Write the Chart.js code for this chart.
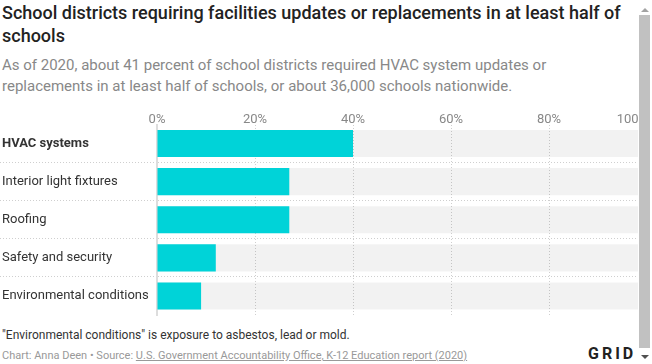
<!DOCTYPE html>
<html>
<head>
<meta charset="utf-8">
<script src="https://cdn.jsdelivr.net/npm/chart.js@4"></script>
<style>
  html, body { margin: 0; padding: 0; background: #fff; overflow: hidden; }
  body { width: 652px; height: 364px; position: relative; font-family: Roboto, "Noto Sans", sans-serif; }
  #title { position: absolute; left: 2px; top: 1px; width: 630px; font-size: 18px; font-weight: 500; line-height: 23px; color: #222; }
  #subtitle { position: absolute; left: 2px; top: 55px; width: 620px; font-size: 15px; line-height: 21px; color: #888; }
  #wrap { position: absolute; left: 0; top: 100px; width: 638px; height: 220px; overflow: hidden; }
  #wrap canvas { position: absolute; left: 0; top: 0; }
  #note { position: absolute; left: 2px; top: 327px; font-size: 12px; line-height: 16px; color: #333; }
  #source { position: absolute; left: 2px; top: 348px; font-size: 11px; line-height: 15px; color: #999; }
  #source a { color: #999; text-decoration: underline; }
  #logo { position: absolute; left: 588px; top: 344px; font-size: 16px; font-weight: 700; letter-spacing: 3px; color: #222; font-family: Roboto, sans-serif; }
  #sb { position: absolute; left: 638px; top: 0; width: 14px; height: 364px; background: #fff; }
  #thumb { position: absolute; left: 1px; top: 15px; width: 11px; height: 333px; background: #c1c1c1; }
  .arr { position: absolute; left: 3px; width: 0; height: 0; border-left: 4px solid transparent; border-right: 4px solid transparent; }
  #up { top: 8px; border-bottom: 4px solid #a3a3a3; }
  #down { top: 355px; border-top: 4px solid #505050; }
</style>
</head>
<body>
<div id="title">School districts requiring facilities updates or replacements in at least half of schools</div>
<div id="subtitle">As of 2020, about 41 percent of school districts required HVAC system updates or replacements in at least half of schools, or about 36,000 schools nationwide.</div>
<div id="wrap"><canvas id="c" width="700" height="220"></canvas></div>
<div id="note">"Environmental conditions" is exposure to asbestos, lead or mold.</div>
<div id="source">Chart: Anna Deen • Source: <a>U.S. Government Accountability Office, K-12 Education report (2020)</a></div>
<div id="logo">GRID</div>
<div id="sb"><div class="arr" id="up"></div><div id="thumb"></div><div class="arr" id="down"></div></div>
<script>
const categories = ["HVAC systems", "Interior light fixtures", "Roofing", "Safety and security", "Environmental conditions"];
const shareValues = [40, 27, 27, 12, 9];
const trackValues = [100, 100, 100, 100, 100];
const tickValues = [0, 20, 40, 60, 80, 100];

const canvas = document.getElementById('c');
canvas.style.width = '700px';
canvas.style.height = '220px';

new Chart(canvas, {
  type: 'bar',
  data: {
    labels: categories,
    datasets: [
      { data: shareValues, backgroundColor: '#00d3d8', grouped: false, barPercentage: 0.71, categoryPercentage: 1 },
      { data: trackValues, backgroundColor: 'rgba(0,0,0,0.05)', grouped: false, barPercentage: 0.71, categoryPercentage: 1 }
    ]
  },
  options: {
    indexAxis: 'y',
    responsive: false,
    animation: false,
    devicePixelRatio: 1,
    layout: { padding: { left: 2, right: 53, top: 6, bottom: 5 } },
    plugins: { legend: { display: false }, tooltip: { enabled: false } },
    scales: {
      x: {
        position: 'top',
        min: 0, max: 100,
        afterBuildTicks: (s) => { s.ticks = tickValues.map(v => ({ value: v })); },
        afterFit: (s) => { s.height = 18.5; s.paddingLeft = 0; s.paddingRight = 0; },
        ticks: {
          padding: -3,
          color: '#888',
          font: { family: 'Roboto', size: 13 },
          callback: (v) => v === 100 ? v + '%\u2007\u2007\u2007\u2007' : v + '%'
        },
        grid: {
          drawTicks: false,
          color: (ctx) => (ctx.tick && ctx.tick.value > 0 && ctx.tick.value < 100) ? '#cfcfcf' : 'transparent',
          lineWidth: 1
        },
        border: { display: false, dash: [1, 2] }
      },
      y: {
        afterFit: (s) => { s.width = 155; s.paddingTop = 0; s.paddingBottom = 0; },
        ticks: {
          crossAlign: 'far',
          color: '#333',
          font: (ctx) => ({ family: 'Roboto', size: 13, weight: ctx.index === 0 ? 'bold' : 'normal' })
        },
        grid: {
          offset: true,
          drawTicks: true,
          tickLength: 157,
          tickBorderDash: [1, 2],
          color: (ctx) => (ctx.index > 0 && ctx.index < categories.length) ? '#cfcfcf' : 'transparent',
          lineWidth: 1
        },
        border: { display: true, color: '#dddddd', width: 2, dash: [1, 2] }
      }
    }
  }
});
</script>
</body>
</html>
